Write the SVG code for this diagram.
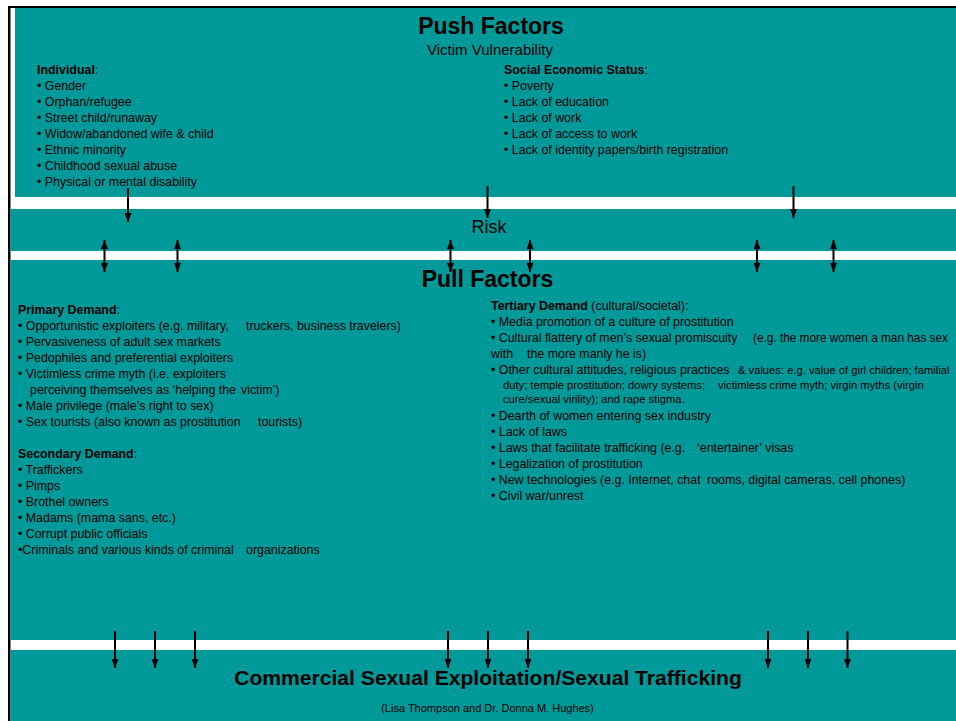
<svg xmlns="http://www.w3.org/2000/svg" width="956" height="721" viewBox="0 0 956 721">
<style>
text{font-family:"Liberation Sans",Arial,sans-serif;fill:#000;}
.t{font-size:12.4px;}
.s{font-size:11.2px;}
.b{font-weight:bold;}
.band{fill:#009999;}
.c{stroke:#000;stroke-width:2;fill:none;}
</style>
<defs>
<marker id="ah" markerUnits="userSpaceOnUse" markerWidth="9" markerHeight="7" refX="9" refY="3.5" orient="auto-start-reverse">
<path d="M0,0 L9,3.5 L0,7 z" fill="#000"/>
</marker>
</defs>
<rect x="0" y="0" width="956" height="721" fill="#fff"/>
<rect x="8" y="6" width="948" height="2" fill="#000"/>
<rect x="8" y="6" width="2.5" height="715" fill="#000"/>

<g id="push">
<rect class="band" x="15" y="8" width="941" height="189"/>
<text class="b" x="491" y="34" font-size="23" text-anchor="middle">Push Factors</text>
<text x="490" y="55" font-size="15" text-anchor="middle">Victim Vulnerability</text>
<g id="individual" class="t">
<text x="37" y="74"><tspan class="b">Individual</tspan>:</text>
<text x="37" y="90">• Gender</text>
<text x="37" y="106">• Orphan/refugee</text>
<text x="37" y="122">• Street child/runaway</text>
<text x="37" y="138">• Widow/abandoned wife &amp; child</text>
<text x="37" y="154">• Ethnic minority</text>
<text x="37" y="170">• Childhood sexual abuse</text>
<text x="37" y="186">• Physical or mental disability</text>
</g>
<g id="ses" class="t">
<text x="504" y="74"><tspan class="b">Social Economic Status</tspan>:</text>
<text x="504" y="90">• Poverty</text>
<text x="504" y="106">• Lack of education</text>
<text x="504" y="122">• Lack of work</text>
<text x="504" y="138">• Lack of access to work</text>
<text x="504" y="154">• Lack of identity papers/birth registration</text>
</g>
</g>

<g id="risk">
<rect class="band" x="10.5" y="209" width="945.5" height="42"/>
<text x="489" y="233" font-size="18" text-anchor="middle">Risk</text>
</g>

<g id="pull">
<rect class="band" x="10.5" y="260" width="945.5" height="380"/>
<text class="b" x="487.5" y="287" font-size="23" text-anchor="middle">Pull Factors</text>
<g id="primary" class="t">
<text x="18" y="314"><tspan class="b">Primary Demand</tspan>:</text>
<text x="18" y="330">• Opportunistic exploiters (e.g. military,<tspan x="246">truckers, business travelers)</tspan></text>
<text x="18" y="346">• Pervasiveness of adult sex markets</text>
<text x="18" y="362">• Pedophiles and preferential exploiters</text>
<text x="18" y="378">• Victimless crime myth (i.e. exploiters</text>
<text x="30" y="394">perceiving themselves as ‘helping the<tspan dx="5">victim’)</tspan></text>
<text x="18" y="410">• Male privilege (male’s right to sex)</text>
<text x="18" y="426">• Sex tourists (also known as prostitution<tspan x="258">tourists)</tspan></text>
</g>
<g id="secondary" class="t">
<text x="18" y="458"><tspan class="b">Secondary Demand</tspan>:</text>
<text x="18" y="474">• Traffickers</text>
<text x="18" y="490">• Pimps</text>
<text x="18" y="506">• Brothel owners</text>
<text x="18" y="522">• Madams (mama sans, etc.)</text>
<text x="18" y="538">• Corrupt public officials</text>
<text x="18" y="554">•Criminals and various kinds of criminal<tspan x="246">organizations</tspan></text>
</g>
<g id="tertiary" class="t">
<text x="491" y="310"><tspan class="b">Tertiary Demand</tspan> (cultural/societal):</text>
<text x="491" y="326">• Media promotion of a culture of prostitution</text>
<text x="491" y="342">• Cultural flattery of men’s sexual promiscuity<tspan x="753" textLength="195" lengthAdjust="spacingAndGlyphs">(e.g. the more women a man has sex</tspan></text>
<text x="491" y="358">with<tspan x="527">the more manly he is)</tspan></text>
<text x="491" y="374">• Other cultural attitudes, religious practices<tspan x="738" class="s">&amp; values: e.g. value of girl children; familial</tspan></text>
<text class="s" x="503" y="389">duty; temple prostitution; dowry systems;<tspan x="718">victimless crime myth; virgin myths (virgin</tspan></text>
<text class="s" x="503" y="403">cure/sexual virility); and rape stigma.</text>
<text x="491" y="420">• Dearth of women entering sex industry</text>
<text x="491" y="436">• Lack of laws</text>
<text x="491" y="452">• Laws that facilitate trafficking (e.g.<tspan x="697">‘entertainer’ visas</tspan></text>
<text x="491" y="468">• Legalization of prostitution</text>
<text x="491" y="484">• New technologies (e.g. Internet, chat<tspan x="707">rooms, digital cameras, cell phones)</tspan></text>
<text x="491" y="500">• Civil war/unrest</text>
</g>
</g>

<g id="outcome">
<rect class="band" x="10.5" y="650" width="945.5" height="71"/>
<text class="b" x="488" y="685" font-size="21.1" text-anchor="middle">Commercial Sexual Exploitation/Sexual Trafficking</text>
<text x="487.5" y="712" font-size="11" text-anchor="middle">(Lisa Thompson and Dr. Donna M. Hughes)</text>
</g>

<g id="connectors" class="c">
<line x1="128" y1="188" x2="128" y2="222" marker-end="url(#ah)"/>
<line x1="487.5" y1="186" x2="487.5" y2="218" marker-end="url(#ah)"/>
<line x1="793.5" y1="186" x2="793.5" y2="218" marker-end="url(#ah)"/>
<line x1="104.5" y1="240" x2="104.5" y2="272" marker-start="url(#ah)" marker-end="url(#ah)"/>
<line x1="177.5" y1="240" x2="177.5" y2="272" marker-start="url(#ah)" marker-end="url(#ah)"/>
<line x1="450.5" y1="240" x2="450.5" y2="272" marker-start="url(#ah)" marker-end="url(#ah)"/>
<line x1="530" y1="240" x2="530" y2="272" marker-start="url(#ah)" marker-end="url(#ah)"/>
<line x1="757" y1="240" x2="757" y2="272" marker-start="url(#ah)" marker-end="url(#ah)"/>
<line x1="833.5" y1="240" x2="833.5" y2="272" marker-start="url(#ah)" marker-end="url(#ah)"/>
<line x1="115" y1="631" x2="115" y2="668" marker-end="url(#ah)"/>
<line x1="155" y1="631" x2="155" y2="668" marker-end="url(#ah)"/>
<line x1="195" y1="631" x2="195" y2="668" marker-end="url(#ah)"/>
<line x1="448" y1="631" x2="448" y2="668" marker-end="url(#ah)"/>
<line x1="488" y1="631" x2="488" y2="668" marker-end="url(#ah)"/>
<line x1="528" y1="631" x2="528" y2="668" marker-end="url(#ah)"/>
<line x1="768" y1="631" x2="768" y2="668" marker-end="url(#ah)"/>
<line x1="808" y1="631" x2="808" y2="668" marker-end="url(#ah)"/>
<line x1="847.5" y1="631" x2="847.5" y2="668" marker-end="url(#ah)"/>
</g>
</svg>
